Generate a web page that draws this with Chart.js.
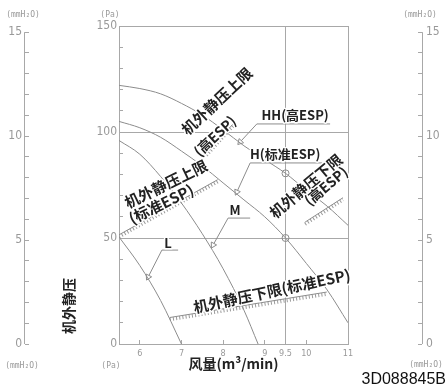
<!DOCTYPE html>
<html>
<head>
<meta charset="utf-8">
<script src="https://cdn.jsdelivr.net/npm/chart.js@4"></script>
<style>body{margin:0;background:#fff}</style>
</head>
<body>
<canvas id="myChart" width="446" height="385"></canvas>
<script>
// eje X: 风量 (m3/min)
var xTicks = [6, 7, 8, 9, 9.5, 10, 11]
// curvas del ventilador, eje Y en Pa
var qHH = [5.5, 6, 6.5, 7, 7.5, 8, 8.5, 9, 9.5, 10, 10.5, 11]
var pHH = [122, 120.5, 118, 113.5, 108, 101, 93.5, 87, 80.5, 72.5, 65, 56]
var qH = [5.5, 6, 6.5, 7, 7.5, 8, 8.5, 9, 9.5, 10, 10.5, 11]
var pH = [105, 102, 97.5, 91, 84, 76, 68, 60, 50, 38, 25.5, 10]
var qM = [5.5, 6, 6.5, 7, 7.5, 8, 8.5, 8.84]
var pM = [96, 89.5, 79, 66.5, 52, 35.5, 16, 0]
var qL = [5.5, 6, 6.5, 7]
var pL = [50.5, 37, 20.5, 0]
// limites (rayados)
var qSupStd = [5.5, 7.87], pSupStd = [51.5, 77.5]
var qInfStd = [6.72, 10.49], pInfStd = [12.5, 24.5]
var qSupAlto = [7.6, 8.25], pSupAlto = [90, 104]
var qInfAlto = [9.97, 10.88], pInfAlto = [57.5, 69]
// puntos nominales
var qNom = [9.5, 9.5], pNom = [80.5, 50]
// flechas: fin del subrayado, inicio del subrayado, punta
var qFlHH = [10.57, 8.81, 8.41], pFlHH = [103.8, 103.8, 95.3]
var qFlH = [10.38, 8.65, 8.33], pFlH = [85.4, 85.4, 71.7]
var qFlM = [8.65, 8.12, 7.76], pFlM = [59.4, 59.4, 46.7]
var qFlL = [6.92, 6.53, 6.2], pFlL = [44.3, 44.3, 31.6]
// textos: texto, x, y, angulo, tamaño
var notas = [
  ['机外静压上限', 7.85, 114.6, -43, 15],
  ['(高ESP)', 7.8, 98.1, -43, 14],
  ['HH(高ESP)', 9.73, 108, 0, 13],
  ['H(标准ESP)', 9.49, 89.6, 0, 13],
  ['M', 8.29, 63.2, 0, 13],
  ['L', 6.68, 47.6, 0, 13],
  ['机外静压上限', 6.63, 75.5, -26, 15],
  ['(标准ESP)', 6.51, 66, -26, 15],
  ['机外静压下限', 9.99, 74.5, -40, 15],
  ['(高ESP)', 10.47, 74.5, -40, 14],
  ['机外静压下限(标准ESP)', 9.17, 25, -12, 15]
]

var gris = '#8c8c8c'
var ejeGris = '#a8a8a8'
var nada = 'rgba(0,0,0,0)'
var fNum = '"Liberation Sans Narrow", "DejaVu Sans Condensed", sans-serif'
var fCJK = '"Noto Sans CJK SC", sans-serif'
var mmMax = 150 / 9.80665

function pts(xs, ys) {
  var r = []
  for (var i = 0; i < xs.length; i++) r.push({x: xs[i], y: ys[i]})
  return r
}

function curva(xs, ys) {
  return {data: pts(xs, ys), showLine: true, borderColor: gris, borderWidth: 1,
    pointRadius: 0, cubicInterpolationMode: 'monotone'}
}

function limite(xs, ys, lado) {
  return [
    {data: pts(xs, ys), showLine: true, borderColor: gris, borderWidth: 1, pointRadius: 0},
    {data: pts(xs, ys), showLine: true, borderColor: '#9a9a9a', borderWidth: 3.5, borderDash: [1, 2.2],
      pointRadius: 0, desplaza: lado}
  ]
}

function flecha(xs, ys) {
  var ult = xs.length - 1
  return {data: pts(xs, ys), showLine: true, borderColor: gris, borderWidth: 1,
    pointStyle: 'triangle',
    pointRadius: function(c) { return c.dataIndex === ult ? 3.5 : 0 },
    pointBackgroundColor: '#fff', pointBorderColor: gris, pointBorderWidth: 1,
    pointRotation: function(c) {
      var i = c.dataIndex
      if (i === 0) return 0
      var sx = c.chart.scales.x, sy = c.chart.scales.y
      var dx = sx.getPixelForValue(xs[i]) - sx.getPixelForValue(xs[i - 1])
      var dy = sy.getPixelForValue(ys[i]) - sy.getPixelForValue(ys[i - 1])
      return Math.atan2(dy, dx) * 180 / Math.PI + 90
    }}
}

var datasets = [curva(qHH, pHH), curva(qH, pH), curva(qM, pM), curva(qL, pL)]
datasets = datasets.concat(limite(qSupStd, pSupStd, 2), limite(qInfStd, pInfStd, 2),
  limite(qSupAlto, pSupAlto, 2), limite(qInfAlto, pInfAlto, 2))
datasets.push(flecha(qFlHH, pFlHH), flecha(qFlH, pFlH), flecha(qFlM, pFlM), flecha(qFlL, pFlL))
datasets.push({data: pts(qNom, pNom), showLine: false, pointRadius: 3.5,
  pointBackgroundColor: nada, pointBorderColor: gris, pointBorderWidth: 1})

function texto(c, t, x, y, ang, font, color, halo) {
  c.save()
  c.translate(x, y)
  c.rotate(ang * Math.PI / 180)
  c.font = font
  c.textAlign = 'center'
  c.textBaseline = 'middle'
  if (halo) {
    c.lineJoin = 'round'
    c.strokeStyle = '#fff'
    c.lineWidth = 3
    c.strokeText(t, 0, 0)
  }
  c.fillStyle = color
  c.fillText(t, 0, 0)
  c.restore()
}

var desplazar = {
  id: 'desplazar',
  beforeDatasetDraw: function(chart, args) {
    var d = chart.data.datasets[args.index]
    if (d.desplaza) { chart.ctx.save(); chart.ctx.translate(0, d.desplaza) }
  },
  afterDatasetDraw: function(chart, args) {
    var d = chart.data.datasets[args.index]
    if (d.desplaza) chart.ctx.restore()
  }
}

var rotulos = {
  id: 'rotulos',
  afterDatasetsDraw: function(chart) {
    var c = chart.ctx, sx = chart.scales.x, sy = chart.scales.y
    var a = chart.chartArea
    notas.forEach(function(n) {
      texto(c, n[0], sx.getPixelForValue(n[1]), sy.getPixelForValue(n[2]), n[3],
        'bold ' + n[4] + 'px ' + fCJK, '#222', true)
    })
    // linea de los ejes mmH2O, de 0 a 15
    var mL = chart.scales.mmL, mR = chart.scales.mmR
    c.save()
    c.strokeStyle = ejeGris
    c.lineWidth = 1
    c.beginPath()
    c.moveTo(mL.right - 0.5, mL.getPixelForValue(15))
    c.lineTo(mL.right - 0.5, mL.getPixelForValue(0))
    c.moveTo(mR.left + 0.5, mR.getPixelForValue(15))
    c.lineTo(mR.left + 0.5, mR.getPixelForValue(0))
    c.stroke()
    c.restore()
    // titulo vertical
    texto(c, '机外静压', 69, 306, -90, 'bold 14px ' + fCJK, '#222', false)
    // unidades
    var fu = '8px "DejaVu Sans Mono", monospace'
    texto(c, '(mmH₂O)', mL.right - 2, a.top - 11, 0, fu, '#999', false)
    texto(c, '(Pa)', sy.right - 9, a.top - 11, 0, fu, '#999', false)
    texto(c, '(mmH₂O)', mR.left - 2, a.top - 11, 0, fu, '#999', false)
    texto(c, '(mmH₂O)', mL.right - 3, a.bottom + 22, 0, fu, '#999', false)
    texto(c, '(Pa)', sy.right - 8, a.bottom + 22, 0, fu, '#999', false)
    texto(c, '(mmH₂O)', mR.left + 4, a.bottom + 21, 0, fu, '#999', false)
    c.save()
    c.font = '16px "Liberation Sans", sans-serif'
    c.fillStyle = '#111'
    c.textAlign = 'right'
    c.textBaseline = 'alphabetic'
    c.fillText('3D088845B', chart.width, chart.height - 1)
    c.restore()
  }
}

var ctx = document.getElementById('myChart').getContext('2d');
var myChart = new Chart(ctx, {
  type: 'scatter',
  data: {datasets: datasets},
  plugins: [desplazar, rotulos],
  options: {
    responsive: false,
    animation: false,
    layout: {padding: {top: 26, left: 0, right: 0, bottom: 0}},
    plugins: {legend: {display: false}, tooltip: {enabled: false}},
    scales: {
      x: {
        type: 'linear', position: 'bottom', min: 5.5, max: 11,
        afterBuildTicks: function(s) { s.ticks = xTicks.map(function(v) { return {value: v} }) },
        afterFit: function(s) { s.height = 41 },
        ticks: {autoSkip: false, maxRotation: 0, padding: 8, color: '#999',
          font: {family: fNum, size: 9}},
        grid: {tickLength: -4, tickColor: ejeGris,
          color: function(c) { return c.tick && (c.tick.value === 9.5 || c.tick.value === 11) ? ejeGris : nada }},
        border: {color: ejeGris},
        title: {display: true, text: '风量(m³/min)', color: '#222', padding: {top: 0, bottom: 13},
          font: {family: fCJK, size: 14, weight: 'bold'}}
      },
      y: {
        type: 'linear', position: 'left', min: 0, max: 150, weight: 1,
        afterFit: function(s) { s.width = 94 },
        ticks: {stepSize: 10, autoSkip: false, padding: 6, color: '#999',
          font: {family: fNum, size: 12},
          callback: function(v) { return v % 50 === 0 ? v : '' }},
        grid: {tickLength: -4, tickColor: ejeGris,
          color: function(c) { return c.tick && c.tick.value % 50 === 0 && c.tick.value > 0 ? ejeGris : nada }},
        border: {color: ejeGris}
      },
      mmL: {
        type: 'linear', position: 'left', min: 0, max: mmMax, weight: 2,
        afterFit: function(s) { s.width = 25 },
        ticks: {stepSize: 1, includeBounds: false, autoSkip: false, padding: 7, color: '#999',
          font: {family: fNum, size: 12},
          callback: function(v) { return v % 5 === 0 ? v : '' }},
        grid: {drawOnChartArea: false, tickLength: -4, tickColor: ejeGris},
        border: {display: false}
      },
      hueco: {
        type: 'linear', position: 'right', weight: 1,
        afterFit: function(s) { s.width = 74 },
        ticks: {display: false}, grid: {display: false}, border: {display: false}
      },
      mmR: {
        type: 'linear', position: 'right', min: 0, max: mmMax, weight: 2,
        afterFit: function(s) { s.width = 24 },
        ticks: {stepSize: 1, includeBounds: false, autoSkip: false, padding: 8, color: '#999',
          font: {family: fNum, size: 12},
          callback: function(v) { return v % 5 === 0 ? v : '' }},
        grid: {drawOnChartArea: false, tickLength: -4, tickColor: ejeGris},
        border: {display: false}
      }
    }
  }
});
</script>
</body>
</html>
